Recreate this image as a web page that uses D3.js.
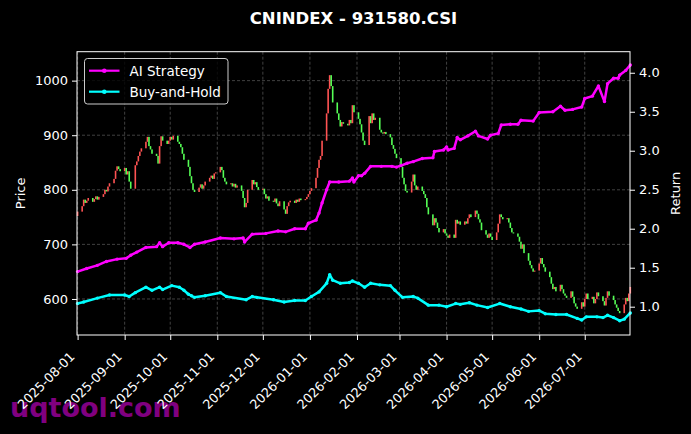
<!DOCTYPE html>
<html>
<head>
<meta charset="utf-8">
<title>CNINDEX - 931580.CSI</title>
<script src="https://d3js.org/d3.v7.min.js"></script>
<style>
  body { margin: 0; background: #000; }
  svg { display: block; font-family: "DejaVu Sans", sans-serif; }
</style>
</head>
<body>
<svg width="691" height="434"></svg>
<script>
// ---- data ----
var firstDay = "2025-08-01", lastDay = "2026-07-31";
var firstOpen = 752;

// daily closes, one row per week (Mon..Fri); first value is Fri 2025-08-01
var closes = [760,
  770, 782, 776, 780, 785,
  778, 783, 788, 782, 787,
  792, 800, 797, 806, 812,
  820, 835, 843, 838, 834,
  840, 828, 834, 815, 802,
  845, 852, 862, 870, 876,
  888, 897, 880, 874, 866,
  862, 848, 880, 898, 890,
  884, 890, 897, 892, 899,
  888, 884, 878, 866, 855,
  842, 825, 812, 800, 796,
  804, 810, 802, 808, 815,
  822, 826, 820, 830, 832,
  842, 836, 822, 815, 810,
  812, 806, 811, 804, 808,
  798, 785, 768, 776, 800,
  818, 810, 814, 805, 800,
  802, 792, 784, 788, 780,
  778, 784, 775, 770, 779,
  764, 756, 770, 777, 780,
  776, 782, 778, 784, 781,
  783, 787, 792, 798, 803,
  822, 840, 855, 862, 890,
  940, 985, 1010, 990, 960,
  940, 928, 916, 924, 921,
  918, 928, 922, 955, 942,
  930, 920, 905, 890, 882,
  935, 922, 940, 928, 932,
  910, 905, 903, 906, 902,
  896, 882, 875, 866, 858,
  842, 822, 810, 798, 795,
  815, 828, 808, 800, 806,
  798, 792, 785, 768, 755,
  735, 748, 740, 730, 722,
  728, 720, 716, 712, 718,
  712, 745, 738, 742, 736,
  742, 738, 748, 755, 750,
  762, 756, 746, 740, 726,
  718, 712, 720, 714, 708,
  722, 738, 755, 750, 746,
  748, 740, 730, 722, 720,
  714, 705, 692, 700, 684,
  670, 662, 656, 650, 652,
  665, 675, 664, 658, 650,
  640, 628, 618, 622, 614,
  626, 618, 610, 606, 602,
  614, 604, 592, 586, 582,
  594, 586, 600, 610, 600,
  604, 592, 600, 612, 605,
  596, 588, 602, 614, 606,
  598, 590, 584, 578, 574,
  590, 602, 596, 610, 622
];

var aiStrategy = [
  ["2025-08-01", 1.45], ["2025-08-07", 1.49], ["2025-08-14", 1.53], ["2025-08-20", 1.58],
  ["2025-08-27", 1.61], ["2025-09-02", 1.62], ["2025-09-05", 1.66], ["2025-09-09", 1.70],
  ["2025-09-15", 1.76], ["2025-09-22", 1.77], ["2025-09-24", 1.82], ["2025-09-26", 1.77],
  ["2025-09-30", 1.82], ["2025-10-06", 1.82], ["2025-10-10", 1.80], ["2025-10-14", 1.76],
  ["2025-10-17", 1.80], ["2025-10-24", 1.83], ["2025-11-03", 1.88], ["2025-11-12", 1.87],
  ["2025-11-18", 1.88], ["2025-11-19", 1.83], ["2025-11-24", 1.93], ["2025-12-03", 1.94],
  ["2025-12-11", 1.97], ["2025-12-16", 1.96], ["2025-12-22", 2.00], ["2025-12-29", 2.00],
  ["2025-12-31", 2.07], ["2026-01-05", 2.11], ["2026-01-07", 2.20], ["2026-01-09", 2.33],
  ["2026-01-12", 2.50], ["2026-01-14", 2.60], ["2026-01-20", 2.60], ["2026-01-27", 2.61],
  ["2026-01-29", 2.65], ["2026-01-30", 2.60], ["2026-02-02", 2.68], ["2026-02-04", 2.68],
  ["2026-02-06", 2.71], ["2026-02-10", 2.80], ["2026-02-17", 2.80], ["2026-02-24", 2.80],
  ["2026-02-27", 2.79], ["2026-03-02", 2.81], ["2026-03-06", 2.84], ["2026-03-10", 2.86],
  ["2026-03-16", 2.90], ["2026-03-23", 2.91], ["2026-03-24", 2.99], ["2026-03-30", 3.01],
  ["2026-04-01", 3.05], ["2026-04-02", 3.01], ["2026-04-06", 3.03], ["2026-04-08", 3.17],
  ["2026-04-10", 3.14], ["2026-04-15", 3.19], ["2026-04-20", 3.25], ["2026-04-22", 3.19],
  ["2026-04-28", 3.15], ["2026-04-30", 3.20], ["2026-05-05", 3.22], ["2026-05-07", 3.33],
  ["2026-05-13", 3.34], ["2026-05-18", 3.34], ["2026-05-20", 3.39], ["2026-05-28", 3.38],
  ["2026-06-01", 3.49], ["2026-06-10", 3.50], ["2026-06-15", 3.57], ["2026-06-18", 3.52],
  ["2026-06-23", 3.53], ["2026-06-29", 3.56], ["2026-07-01", 3.67], ["2026-07-06", 3.70],
  ["2026-07-10", 3.83], ["2026-07-14", 3.63], ["2026-07-16", 3.86], ["2026-07-20", 3.93],
  ["2026-07-23", 3.93], ["2026-07-24", 3.97], ["2026-07-28", 4.03], ["2026-07-31", 4.10]
];

var buyHold = [
  ["2025-08-01", 1.04], ["2025-08-05", 1.06], ["2025-08-14", 1.11], ["2025-08-22", 1.15],
  ["2025-09-01", 1.15], ["2025-09-04", 1.13], ["2025-09-08", 1.18], ["2025-09-15", 1.25],
  ["2025-09-19", 1.21], ["2025-09-24", 1.25], ["2025-09-26", 1.22], ["2025-10-02", 1.27],
  ["2025-10-07", 1.25], ["2025-10-10", 1.21], ["2025-10-13", 1.16], ["2025-10-15", 1.14],
  ["2025-10-17", 1.12], ["2025-10-24", 1.14], ["2025-11-03", 1.18], ["2025-11-07", 1.13],
  ["2025-11-20", 1.09], ["2025-11-24", 1.13], ["2025-11-27", 1.12], ["2025-12-08", 1.09],
  ["2025-12-15", 1.06], ["2025-12-22", 1.08], ["2025-12-29", 1.08], ["2026-01-02", 1.13],
  ["2026-01-07", 1.19], ["2026-01-12", 1.30], ["2026-01-14", 1.41], ["2026-01-16", 1.34],
  ["2026-01-21", 1.30], ["2026-01-27", 1.31], ["2026-01-29", 1.33], ["2026-02-02", 1.30],
  ["2026-02-06", 1.25], ["2026-02-10", 1.30], ["2026-02-16", 1.28], ["2026-02-23", 1.27],
  ["2026-02-26", 1.21], ["2026-03-03", 1.12], ["2026-03-10", 1.13], ["2026-03-13", 1.11],
  ["2026-03-20", 1.02], ["2026-03-27", 1.02], ["2026-04-01", 1.00], ["2026-04-07", 1.04],
  ["2026-04-10", 1.03], ["2026-04-16", 1.05], ["2026-04-21", 1.02], ["2026-04-28", 0.99],
  ["2026-05-06", 1.04], ["2026-05-13", 1.00], ["2026-05-20", 0.97], ["2026-05-25", 0.94],
  ["2026-06-01", 0.95], ["2026-06-05", 0.91], ["2026-06-12", 0.90], ["2026-06-19", 0.90],
  ["2026-06-26", 0.85], ["2026-06-29", 0.83], ["2026-07-02", 0.87], ["2026-07-09", 0.87],
  ["2026-07-13", 0.86], ["2026-07-16", 0.89], ["2026-07-20", 0.86], ["2026-07-24", 0.82],
  ["2026-07-27", 0.84], ["2026-07-31", 0.92]
];

var priceTicks = [600, 700, 800, 900, 1000];
var returnTicks = [1.0, 1.5, 2.0, 2.5, 3.0, 3.5, 4.0];
var monthTicks = ["2025-08-01", "2025-09-01", "2025-10-01", "2025-11-01", "2025-12-01",
  "2026-01-01", "2026-02-01", "2026-03-01", "2026-04-01", "2026-05-01", "2026-06-01", "2026-07-01"];

// ---- layout ----
var svg = d3.select("svg");
var plotL = 77, plotR = 630, plotT = 51.7, plotB = 335;
var parse = d3.timeParse("%Y-%m-%d");
var upColor = "#ff5353", downColor = "#55ff55";

svg.append("rect").attr("width", 691).attr("height", 434).attr("fill", "#000");

// trading days = weekdays between first and last date
var days = d3.timeDay.range(parse(firstDay), d3.timeDay.offset(parse(lastDay), 1))
  .filter(function(d) { return d.getDay() != 0 && d.getDay() != 6; });
var candles = days.map(function(d, i) {
  return { date: d, open: i == 0 ? firstOpen : closes[i - 1], close: closes[i] };
});

var x = d3.scaleTime().domain([parse(firstDay), parse(lastDay)]).range([77.6, 630.3]);
var yP = d3.scaleLinear().domain([534, 1053]).range([plotB, plotT]);
var yR = d3.scaleLinear().domain([0.637, 4.27]).range([plotB, plotT]);

// watermark (under everything)
svg.append("text").attr("x", 10).attr("y", 417)
  .attr("font-size", 27).attr("font-weight", "bold")
  .attr("fill", "#800080").text("uqtool.com");

// grid
var grid = svg.append("g").attr("stroke", "#505050").attr("stroke-width", 0.8)
  .attr("stroke-dasharray", "3,2");
grid.selectAll(".gx").data(monthTicks).enter().append("line")
  .attr("x1", function(d) { return x(parse(d)); }).attr("x2", function(d) { return x(parse(d)); })
  .attr("y1", plotT).attr("y2", plotB);
grid.selectAll(".gy").data(priceTicks).enter().append("line")
  .attr("x1", plotL).attr("x2", plotR)
  .attr("y1", function(d) { return yP(d); }).attr("y2", function(d) { return yP(d); });

// candles
svg.append("g").selectAll("rect").data(candles).enter().append("rect")
  .attr("x", function(d) { return x(d.date) - 0.8; })
  .attr("width", 1.6)
  .attr("y", function(d) { return yP(Math.max(d.open, d.close)); })
  .attr("height", function(d) { return Math.max(1, Math.abs(yP(d.open) - yP(d.close))); })
  .attr("fill", function(d) { return d.close >= d.open ? upColor : downColor; });

// return lines
function drawLine(data, color) {
  var pts = data.map(function(d) { return [x(parse(d[0])), yR(d[1])]; });
  svg.append("path").attr("d", d3.line()(pts))
    .attr("fill", "none").attr("stroke", color).attr("stroke-width", 2.5)
    .attr("stroke-linejoin", "round");
  svg.append("g").selectAll("circle").data(pts).enter().append("circle")
    .attr("cx", function(d) { return d[0]; }).attr("cy", function(d) { return d[1]; })
    .attr("r", 1.7).attr("fill", color);
}
drawLine(aiStrategy, "#ff00ff");
drawLine(buyHold, "#00ffff");

// frame
svg.append("rect").attr("x", plotL).attr("y", plotT).attr("width", plotR - plotL).attr("height", plotB - plotT)
  .attr("fill", "none").attr("stroke", "#fff").attr("stroke-width", 1);

// axes
function styleAxis(g) {
  g.select(".domain").remove();
  g.selectAll("line").attr("stroke", "#fff");
  g.selectAll("text").attr("fill", "#fff").attr("font-size", 13).attr("font-family", "DejaVu Sans");
}
var xAxis = svg.append("g").attr("transform", "translate(0," + plotB + ")")
  .call(d3.axisBottom(x).tickValues(monthTicks.map(parse)).tickFormat(d3.timeFormat("%Y-%m-%d"))
    .tickSize(5).tickSizeOuter(0))
  .call(styleAxis);
xAxis.selectAll("text").attr("x", 0).attr("y", 0).attr("dy", 0)
  .attr("font-size", 12.8)
  .attr("text-anchor", "end").attr("transform", "translate(-2.5,22.5) rotate(-45)");

svg.append("g").attr("transform", "translate(" + plotL + ",0)")
  .call(d3.axisLeft(yP).tickValues(priceTicks).tickFormat(d3.format("d")).tickSize(5).tickPadding(4).tickSizeOuter(0))
  .call(styleAxis);
svg.append("g").attr("transform", "translate(" + plotR + ",0)")
  .call(d3.axisRight(yR).tickValues(returnTicks).tickFormat(d3.format(".1f")).tickSize(5).tickPadding(4).tickSizeOuter(0))
  .call(styleAxis);

// titles
svg.append("text").attr("x", 353.5).attr("y", 24).attr("text-anchor", "middle")
  .attr("font-size", 16.5).attr("font-weight", "bold").attr("fill", "#fff")
  .text("CNINDEX - 931580.CSI");
svg.append("text").attr("transform", "translate(25," + ((plotT + plotB) / 2) + ") rotate(-90)")
  .attr("text-anchor", "middle").attr("font-size", 13).attr("fill", "#fff").text("Price");
svg.append("text").attr("transform", "translate(680," + ((plotT + plotB) / 2) + ") rotate(-90)")
  .attr("text-anchor", "middle").attr("font-size", 13).attr("fill", "#fff").text("Return");

// legend
var legend = svg.append("g");
legend.append("rect").attr("x", 84.5).attr("y", 58.5).attr("width", 143.5).attr("height", 45.5)
  .attr("rx", 3).attr("fill", "#000").attr("fill-opacity", 0.8)
  .attr("stroke", "#cccccc").attr("stroke-width", 1);
var legendItems = [["AI Strategy", "#ff00ff", 70.7], ["Buy-and-Hold", "#00ffff", 91.7]];
legendItems.forEach(function(it) {
  legend.append("line").attr("x1", 89).attr("x2", 119.5).attr("y1", it[2]).attr("y2", it[2])
    .attr("stroke", it[1]).attr("stroke-width", 2.2);
  legend.append("circle").attr("cx", 104.3).attr("cy", it[2]).attr("r", 2.3).attr("fill", it[1]);
  legend.append("text").attr("x", 129.5).attr("y", it[2] + 4.8)
    .attr("font-size", 13.5).attr("fill", "#fff").text(it[0]);
});
</script>
</body>
</html>
